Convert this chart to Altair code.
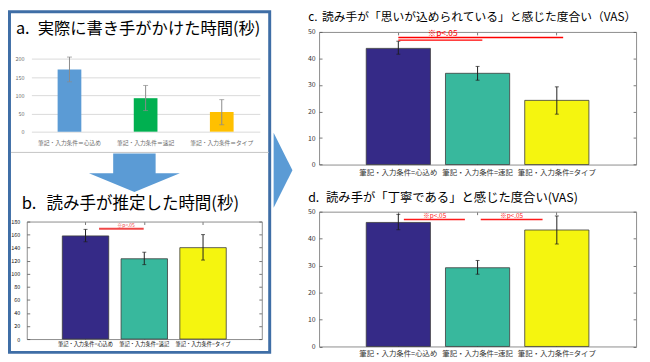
import altair as alt
import pandas as pd

FONT = "Noto Sans CJK JP"
OFF = 8            # page margin: chart pixel = page pixel - 8
W, H = 642, 354    # whole drawing area (autosize none, padding 0)


def px(v):
    return v - OFF


# ---------------- data ----------------
cats_a = ["筆記・入力条件＝心込め", "筆記・入力条件＝速記", "筆記・入力条件＝タイプ"]
cats = ["筆記・入力条件=心込め", "筆記・入力条件=速記", "筆記・入力条件=タイプ"]

excel_colors = ["#5b9bd5", "#00b050", "#ffc000"]
parula = ["#352a87", "#38b89d", "#f5f50f"]

# a. actual writing time (s)
a_mean = [171, 92, 54]
a_lo = [137, 58, 19]
a_hi = [205, 127, 88]

# b. time estimated by readers (s)
b_mean = [158, 123, 140]
b_lo = [149, 114, 121]
b_hi = [168, 133, 160]

# c. VAS "feelings put in"
c_mean = [43.8, 34.4, 24.2]
c_lo = [41.6, 31.8, 19.0]
c_hi = [46.5, 37.0, 29.3]

# d. VAS "carefully written"
d_mean = [46.0, 29.2, 43.2]
d_lo = [43.3, 26.8, 38.0]
d_hi = [49.0, 31.9, 48.4]

# significance bars in bar-index units (bars sit at 1, 2, 3)
sig_label = "※p<.05"
b_sig_x1, b_sig_x2, b_sig_y = [1.23], [1.99], [169]
b_txt_x, b_txt_y = [1.69], [175]
c_sig_x1, c_sig_x2, c_sig_y = [1.0, 1.0], [3.08, 2.06], [47.9, 46.9]
c_txt_x, c_txt_y = [1.56], [49.4]
d_sig_x1, d_sig_x2, d_sig_y = [1.07, 2.04], [1.84, 2.82], [47.1, 47.1]
d_txt_x, d_txt_y = [1.46, 2.43], [48.5, 48.5]

titles_prefix = ["a.", "b.", "c.", "d."]
titles_body = [
    "実際に書き手がかけた時間(秒)",
    "読み手が推定した時間(秒)",
    "読み手が「思いが込められている」と感じた度合い（VAS）",
    "読み手が「丁寧である」と感じた度合い(VAS)",
]

# ---------------- layout (reference pixel coordinates) ----------------
FRAME = "#8c8c8c"
EDGE = "#3c3c3c"
ERR = "#1e1e1e"
one = pd.DataFrame({"k": [0]})
layers = []

# left framed box and separator
layers.append(alt.Chart(one).mark_rect(fill="white", fillOpacity=0, stroke="#3f6ea6", strokeWidth=3).encode(
    x=alt.value(1.5), x2=alt.value(px(273)), y=alt.value(1.5), y2=alt.value(px(354.5))))
layers.append(alt.Chart(one).mark_rule(color="#c4c4c4", strokeWidth=1).encode(
    x=alt.value(3), x2=alt.value(px(272)), y=alt.value(px(152))))


def band_x(dom, x0, x1, po):
    return alt.Scale(domain=dom, range=[px(x0), px(x1)], paddingInner=0, paddingOuter=po)


def lin(dom, lo_px, hi_px):
    return alt.Scale(domain=dom, range=[px(lo_px), px(hi_px)], nice=False, zero=False)


# ---------- panel a (Excel style) ----------
ax0, ax1, ay_top, ay_bot = 31.7, 263.0, 57.3, 131.0
dfa = pd.DataFrame({"cat": cats_a, "mean": a_mean, "lo": a_lo, "hi": a_hi, "col": excel_colors})
xa = band_x(cats_a, ax0, ax1, 0)
ya = lin([0, 200], ay_bot, ay_top)
layers.append(alt.Chart(dfa).mark_bar(size=24).encode(
    x=alt.X("cat:N", scale=xa, axis=alt.Axis(
        orient="bottom", offset=px(ay_bot) - H, title=None, domain=False, ticks=False, tickSize=0,
        labelAngle=0, labelFont=FONT, labelFontSize=5.8, labelColor="#6e6e6e", labelPadding=8.5,
        labelLimit=300)),
    y=alt.Y("mean:Q", scale=ya, axis=alt.Axis(
        orient="left", offset=-px(ax0), title=None, domain=False, ticks=False, tickSize=0,
        values=[0, 50, 100, 150, 200], grid=True, gridColor="#d9d9d9", gridWidth=1,
        labelFont=FONT, labelFontSize=5.5, labelColor="#6e6e6e", labelPadding=7.5)),
    color=alt.Color("col:N", scale=None),
))
layers.append(alt.Chart(dfa).mark_rule(color="#8a8a8a", strokeWidth=1).encode(
    x=alt.X("cat:N", scale=xa, axis=None),
    y=alt.Y("lo:Q", scale=ya, axis=None), y2="hi:Q"))
layers.append(alt.Chart(dfa).transform_fold(["lo", "hi"], as_=["w", "v"]).mark_tick(
    color="#8a8a8a", size=5, thickness=1).encode(
    x=alt.X("cat:N", scale=xa, axis=None),
    y=alt.Y("v:Q", scale=ya, axis=None)))


# ---------- MATLAB style panels ----------
def matlab_panel(mean, lo, hi, fr, ydom, yvals, bar_size, cap, ylab_size, ylab_pad,
                 xlab_size, xlab_pad, sx1, sx2, sy, sig_w, sig_color, tx, ty, t_size, lab_color):
    x0, x1, yt, yb = fr
    df = pd.DataFrame({"cat": cats, "mean": mean, "lo": lo, "hi": hi, "col": parula})
    xs = band_x(cats, x0, x1, 0.5)
    xq = alt.Scale(domain=[0, 4], range=[px(x0), px(x1)], nice=False, zero=False)
    ys = lin(ydom, yb, yt)
    base = dict(title=None, domainColor=FRAME, domainWidth=1, tickColor="#555555", tickWidth=0.8)
    out = []
    out.append(alt.Chart(df).mark_bar(size=bar_size, stroke=EDGE, strokeWidth=0.8).encode(
        x=alt.X("cat:N", scale=xs, axis=alt.Axis(
            orient="bottom", offset=px(yb) - H, domain=True, ticks=False, tickSize=0,
            labelAngle=0, labelFont=FONT, labelFontSize=xlab_size, labelColor=lab_color,
            labelPadding=xlab_pad, labelLimit=300, **base)),
        y=alt.Y("mean:Q", scale=ys, axis=alt.Axis(
            orient="left", offset=-px(x0), domain=True, ticks=False, tickSize=0, values=yvals,
            grid=False, labelFont=FONT, labelFontSize=ylab_size, labelColor=lab_color,
            labelPadding=ylab_pad, **base)),
        color=alt.Color("col:N", scale=None),
    ))
    out.append(alt.Chart(df).mark_rule(color=ERR, strokeWidth=1).encode(
        x=alt.X("cat:N", scale=xs, axis=alt.Axis(
            orient="top", offset=-px(yb), domain=False, ticks=True, tickSize=3, labels=False, **base)),
        y=alt.Y("lo:Q", scale=ys, axis=alt.Axis(
            orient="left", offset=-px(x1), domain=True, ticks=True, tickSize=3, labels=False,
            values=yvals, grid=False, **base)),
        y2="hi:Q"))
    out.append(alt.Chart(df).transform_fold(["lo", "hi"], as_=["w", "v"]).mark_tick(
        color=ERR, size=cap, thickness=1).encode(
        x=alt.X("cat:N", scale=xs, axis=alt.Axis(
            orient="bottom", offset=px(yt) - H, domain=True, ticks=True, tickSize=3, labels=False, **base)),
        y=alt.Y("v:Q", scale=ys, axis=alt.Axis(
            orient="right", offset=px(x0) - W, domain=False, ticks=True, tickSize=3, labels=False,
            values=yvals, grid=False, **base))))
    sig = pd.DataFrame({"x1": sx1, "x2": sx2, "y": sy})
    out.append(alt.Chart(sig).mark_rule(stroke=sig_color, color=sig_color, strokeWidth=sig_w,
                                        opacity=1).encode(
        x=alt.X("x1:Q", scale=xq, axis=None), x2="x2:Q",
        y=alt.Y("y:Q", scale=ys, axis=None)))
    txt = pd.DataFrame({"x": tx, "y": ty, "t": [sig_label] * len(tx)})
    out.append(alt.Chart(txt).mark_text(color=sig_color, font=FONT, fontSize=t_size,
                                        align="center", baseline="middle").encode(
        x=alt.X("x:Q", scale=xq, axis=None),
        y=alt.Y("y:Q", scale=ys, axis=None),
        text="t:N"))
    return out


layers += matlab_panel(b_mean, b_lo, b_hi, (27, 265, 222, 341), [0, 180], list(range(0, 181, 20)),
                       47, 4, 5.5, 7, 5.3, 3, b_sig_x1, b_sig_x2, b_sig_y, 2, "#f04848",
                       b_txt_x, b_txt_y, 5, "#111111")
layers += matlab_panel(c_mean, c_lo, c_hi, (323, 644, 30, 164.3), [0, 50], list(range(0, 51, 10)),
                       65, 4, 7, 4, 7.5, 4.5, c_sig_x1, c_sig_x2, c_sig_y, 1.3, "#ff0000",
                       c_txt_x, c_txt_y, 8.5, "#333333")
layers += matlab_panel(d_mean, d_lo, d_hi, (323, 644, 212, 348.5), [0, 50], list(range(0, 51, 10)),
                       65, 4, 7, 4, 7.5, 3, d_sig_x1, d_sig_x2, d_sig_y, 1.6, "#ff1a1a",
                       d_txt_x, d_txt_y, 6.5, "#333333")

# ---------- arrows ----------
down_arrow = "M -0.467 -0.424 L 0.467 -0.424 L 0.467 0.011 L 1 0.011 L 0 0.424 L -1 0.011 L -0.467 0.011 Z"
layers.append(alt.Chart(one).mark_point(shape=down_arrow, filled=True, fill="#5b9bd5", opacity=1,
                                        size=92 * 92, strokeWidth=0).encode(
    x=alt.value(px(136)), y=alt.value(px(172.5))))
right_arrow = "M -0.25 -1 L 0.25 0 L -0.25 1 Z"
layers.append(alt.Chart(one).mark_point(shape=right_arrow, filled=True, fill="#5b9bd5", opacity=1,
                                        size=76 * 76, strokeWidth=0).encode(
    x=alt.value(px(286.5)), y=alt.value(px(170))))

# ---------- titles ----------
title_pos = [  # (prefix x, body x, y centre, font size)
    (16, 38, 27.5, 16.5),
    (22, 47, 204.5, 16.7),
    (312, 326, 15, 11.9),
    (312, 330, 198, 12.5),
]
for pre, body, (xp, xb, yc, fs) in zip(titles_prefix, titles_body, title_pos):
    layers.append(alt.Chart(one).mark_text(align="left", baseline="middle", font=FONT,
                                           fontSize=fs, color="#000000").encode(
        x=alt.value(px(xp)), y=alt.value(px(yc)), text=alt.value(pre)))
    layers.append(alt.Chart(one).mark_text(align="left", baseline="middle", font=FONT,
                                           fontSize=fs, color="#000000").encode(
        x=alt.value(px(xb)), y=alt.value(px(yc)), text=alt.value(body)))

chart = alt.layer(*layers).resolve_scale(
    x="independent", y="independent", color="independent"
).resolve_axis(x="independent", y="independent").properties(
    width=W, height=H, autosize=alt.AutoSizeParams(type="none"), padding=0,
    background="white"
).configure_view(stroke=None)

chart.save("out.html", embed_options={"renderer": "svg", "actions": False})
